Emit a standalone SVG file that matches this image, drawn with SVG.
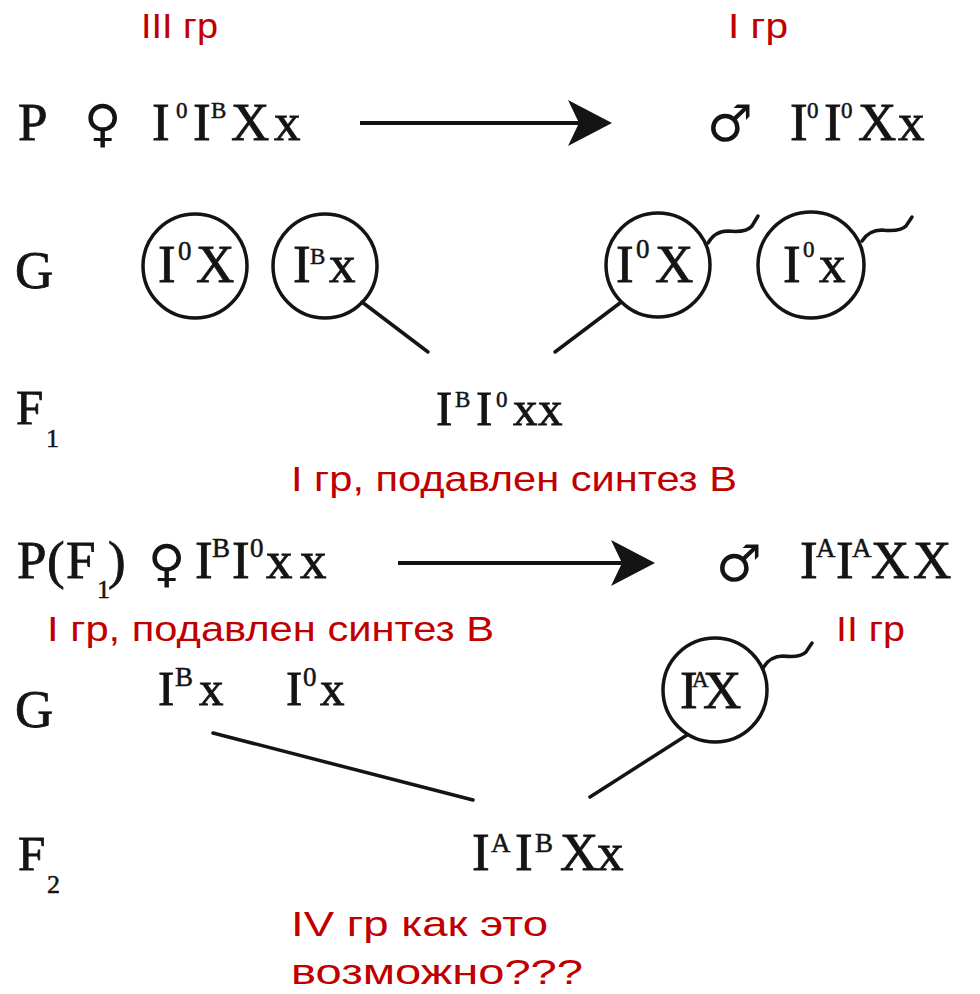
<svg xmlns="http://www.w3.org/2000/svg" width="980" height="994" viewBox="0 0 980 994">
  <style>
    .bg { fill: #ffffff; }
    .sf { font-family: "Liberation Serif", "Times New Roman", serif; fill: #141414; stroke: #141414; stroke-width: 0.8; }
    .big { font-size: 53px; }
    .mid { font-size: 49px; }
    .sup { font-size: 23px; stroke-width: 0.5; }
    .supl { font-size: 27px; stroke-width: 0.5; }
    .sub { font-size: 26px; stroke-width: 0.5; }
    .sym { font-family: "DejaVu Sans", sans-serif; font-size: 51px; fill: #141414; }
    .note { font-family: "Liberation Sans", Arial, sans-serif; font-size: 35px; fill: #c00000; }
    .ring { fill: none; stroke: #141414; stroke-width: 3.5; }
    .wire { fill: none; stroke: #141414; stroke-width: 3.5; stroke-linecap: round; }
    .arrow { fill: none; stroke: #141414; stroke-width: 4; marker-end: url(#head); }
  </style>
  <defs>
    <marker id="head" markerUnits="userSpaceOnUse" markerWidth="60" markerHeight="60" refX="0" refY="0" orient="auto" overflow="visible">
      <path d="M22,0 L-22,-23 L-11,0 L-22,23 Z" fill="#141414"/>
    </marker>
  </defs>
  <rect class="bg" x="0" y="0" width="980" height="994"/>

  <!-- remarks in red -->
  <g id="notes">
    <text class="note" x="141" y="38" textLength="77" lengthAdjust="spacingAndGlyphs">III гр</text>
    <text class="note" x="728" y="38" textLength="60" lengthAdjust="spacingAndGlyphs">I гр</text>
    <text class="note" x="291" y="491" textLength="446" lengthAdjust="spacingAndGlyphs">I гр, подавлен синтез В</text>
    <text class="note" x="47" y="641" textLength="447" lengthAdjust="spacingAndGlyphs">I гр, подавлен синтез В</text>
    <text class="note" x="836" y="641" textLength="69" lengthAdjust="spacingAndGlyphs">II гр</text>
    <text class="note" x="291" y="936" textLength="257" lengthAdjust="spacingAndGlyphs">IV гр как это</text>
    <text class="note" x="291" y="984" textLength="292" lengthAdjust="spacingAndGlyphs">возможно???</text>
  </g>

  <!-- row labels -->
  <g id="labels">
    <text class="sf big" x="18" y="140">P</text>
    <text class="sf big" x="15" y="288">G</text>
    <text class="sf mid" x="16" y="424">F</text>
    <text class="sf sub" x="46" y="447">1</text>
    <text class="sf big" y="578"><tspan x="17">P</tspan><tspan x="47">(</tspan><tspan x="66">F</tspan><tspan class="sub" x="97" y="598">1</tspan><tspan x="108" y="578">)</tspan></text>
    <text class="sf big" x="15" y="727">G</text>
    <text class="sf mid" x="18" y="870">F</text>
    <text class="sf sub" x="47" y="893">2</text>
  </g>

  <!-- parents, first cross -->
  <g id="p1-female">
    <text class="sym" x="84" y="141">♀</text>
    <text class="sf big" y="140"><tspan x="152">I</tspan><tspan class="sup" x="176" y="118">0</tspan><tspan x="193" y="140">I</tspan><tspan class="sup" x="211" y="118">B</tspan><tspan x="231" y="140">X</tspan><tspan x="274">x</tspan></text>
  </g>
  <g id="p1-male">
    <text class="sym" x="707" y="141">♂</text>
    <text class="sf big" y="140"><tspan x="790">I</tspan><tspan class="sup" x="807" y="118">0</tspan><tspan x="824" y="140">I</tspan><tspan class="sup" x="841" y="118">0</tspan><tspan x="858" y="140">X</tspan><tspan x="898">x</tspan></text>
  </g>

  <!-- gametes, first cross -->
  <g id="g1-a">
    <circle class="ring" cx="195" cy="266" r="52"/>
    <text class="sf big" y="282"><tspan x="158">I</tspan><tspan class="supl" x="178" y="260">0</tspan><tspan x="196" y="282">X</tspan></text>
  </g>
  <g id="g1-b">
    <circle class="ring" cx="325" cy="266" r="52"/>
    <text class="sf big" y="282"><tspan x="293">I</tspan><tspan class="sup" x="310" y="264">B</tspan><tspan x="329" y="282">x</tspan></text>
  </g>
  <g id="g1-c">
    <circle class="ring" cx="658" cy="265" r="52"/>
    <path class="wire" d="M708,243 Q715,231 728,231 Q746,233 752,226 L758,216"/>
    <text class="sf big" y="282"><tspan x="616">I</tspan><tspan class="supl" x="636" y="258">0</tspan><tspan x="655" y="282">X</tspan></text>
  </g>
  <g id="g1-d">
    <circle class="ring" cx="811" cy="265" r="53"/>
    <path class="wire" d="M862,241 Q869,230 882,230 Q900,232 906,226 L912,217"/>
    <text class="sf big" y="282"><tspan x="783">I</tspan><tspan class="sup" x="803" y="257">0</tspan><tspan x="819" y="282">x</tspan></text>
  </g>

  <!-- first generation -->
  <g id="f1">
    <text class="sf mid" y="425"><tspan x="436">I</tspan><tspan class="sup" x="455" y="407">B</tspan><tspan x="476" y="425">I</tspan><tspan class="sup" x="496" y="407">0</tspan><tspan x="513" y="425">x</tspan><tspan x="538">x</tspan></text>
  </g>

  <!-- parents, second cross -->
  <g id="p2-female">
    <text class="sym" x="148" y="581">♀</text>
    <text class="sf big" y="578"><tspan x="195">I</tspan><tspan class="supl" x="212" y="557">B</tspan><tspan x="232" y="578">I</tspan><tspan class="supl" x="250" y="557">0</tspan><tspan x="266" y="578">x</tspan><tspan x="300">x</tspan></text>
  </g>
  <g id="p2-male">
    <text class="sym" x="716" y="581">♂</text>
    <text class="sf big" y="578"><tspan x="800">I</tspan><tspan class="supl" x="816" y="557">A</tspan><tspan x="836" y="578">I</tspan><tspan class="supl" x="852" y="557">A</tspan><tspan x="871" y="578">X</tspan><tspan x="913">X</tspan></text>
  </g>

  <!-- gametes, second cross -->
  <g id="g2-a">
    <text class="sf mid" y="705"><tspan x="158">I</tspan><tspan class="supl" x="175" y="686">B</tspan><tspan x="199" y="705">x</tspan></text>
  </g>
  <g id="g2-b">
    <text class="sf mid" y="705"><tspan x="286">I</tspan><tspan class="supl" x="303" y="686">0</tspan><tspan x="320" y="705">x</tspan></text>
  </g>
  <g id="g2-c">
    <circle class="ring" cx="715" cy="690" r="52"/>
    <path class="wire" d="M763,668 Q770,656 783,656 Q800,658 806,652 L812,643"/>
    <text class="sf big" y="708"><tspan x="680">I</tspan><tspan class="sup" x="692" y="687">A</tspan><tspan x="703" y="708">X</tspan></text>
  </g>

  <!-- second generation -->
  <g id="f2">
    <text class="sf big" y="870"><tspan x="472">I</tspan><tspan class="supl" x="491" y="852">A</tspan><tspan x="515" y="870">I</tspan><tspan class="supl" x="535" y="852">B</tspan><tspan x="560" y="870">X</tspan><tspan x="597">x</tspan></text>
  </g>

  <!-- crosses and descent lines -->
  <g id="connectors">
    <line class="arrow" x1="360" y1="123" x2="590" y2="123"/>
    <line class="arrow" x1="398" y1="563" x2="633" y2="563"/>
    <line class="wire" x1="362" y1="302" x2="428" y2="352"/>
    <line class="wire" x1="620" y1="303" x2="555" y2="352"/>
    <line class="wire" x1="213" y1="733" x2="473" y2="800"/>
    <line class="wire" x1="687" y1="735" x2="590" y2="797"/>
  </g>
</svg>
